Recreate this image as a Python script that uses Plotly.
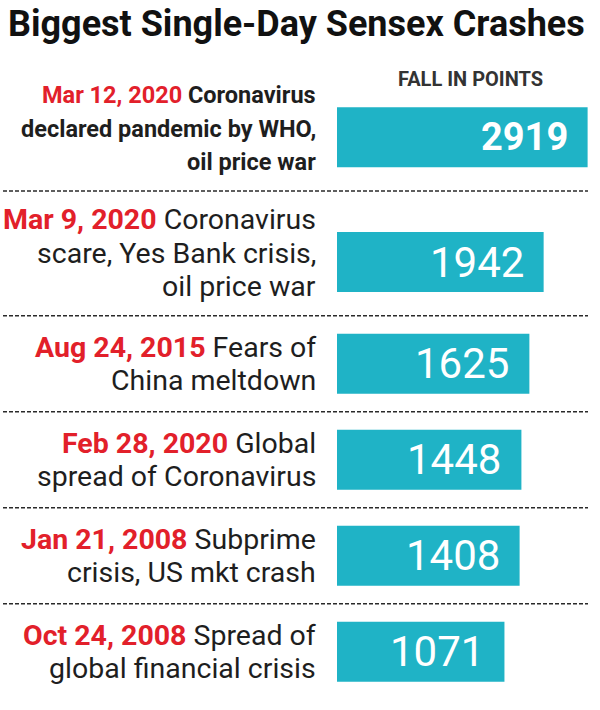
import plotly.graph_objects as go

# ---- data ----
dates = ["Mar 12, 2020", "Mar 9, 2020", "Aug 24, 2015", "Feb 28, 2020", "Jan 21, 2008", "Oct 24, 2008"]
descriptions = [
    ["Coronavirus", "declared pandemic by WHO,", "oil price war"],
    ["Coronavirus", "scare, Yes Bank crisis,", "oil price war"],
    ["Fears of", "China meltdown"],
    ["Global", "spread of Coronavirus"],
    ["Subprime", "crisis, US mkt crash"],
    ["Spread of", "global financial crisis"],
]
fall_points = [2919, 1942, 1625, 1448, 1408, 1071]
title_text = "Biggest Single-Day Sensex Crashes"
column_header = "FALL IN POINTS"

# ---- style ----
FONT = "Roboto, Liberation Sans, sans-serif"
BAR_COLOR = "#1fb3c6"
RED = "#e2202a"
INK = "#1e1e1e"
BAR_BASE = -2650          # the reference's bars are not drawn from zero
PX_PER_UNIT = 96.0
LINE_PX = 33.5
W, H = 600, 710

# row heights grow with the number of label lines
heights = [1.3 if len(d) >= 3 else 1.0 for d in descriptions]
centers, bar_pos, bounds, acc = [], [], [], 0.0
for h in heights:
    centers.append(acc + h / 2)
    bar_pos.append(acc + h / 2 + 0.3 * (h - 1))
    acc += h
    bounds.append(acc)
separators = bounds[:-1]

y_top = -66.2 / PX_PER_UNIT
y_bot = y_top + H / PX_PER_UNIT

fig = go.Figure()
fig.add_trace(go.Bar(
    orientation="h",
    y=bar_pos,
    x=[v - BAR_BASE for v in fall_points],
    base=BAR_BASE,
    width=60 / PX_PER_UNIT,
    marker=dict(color=BAR_COLOR, line=dict(width=0)),
    customdata=fall_points,
    hovertemplate="%{customdata}<extra></extra>",
))

annotations = []
for i, (d, lines, v, c, b) in enumerate(zip(dates, descriptions, fall_points, centers, bar_pos)):
    n = len(lines)
    for k, line in enumerate(lines):
        if k == 0:
            txt = f"<span style='color:{RED}'><b>{d}</b></span> {line}"
        else:
            txt = line
        if i == 0:
            txt = f"<b>{txt}</b>"
        annotations.append(dict(
            xref="paper", yref="y", x=318 / W, y=c, xanchor="right", yanchor="middle",
            yshift=-(k - (n - 1) / 2) * LINE_PX,
            align="right", text=txt, showarrow=False,
            font=dict(family=FONT, size=(23.5 if i == 0 else 28.5), color=INK),
        ))
    annotations.append(dict(
        xref="x", yref="y", x=v, y=b, xanchor="right", yanchor="middle",
        xshift=-18, text=(f"<b>{v}</b>" if i == 0 else str(v)), showarrow=False,
        font=dict(family=FONT, size=(38 if i == 0 else 42), color="white"),
    ))

annotations.append(dict(
    xref="paper", yref="paper", x=6 / W, y=1 - 24 / H, xanchor="left", yanchor="middle",
    text=f"<b>{title_text}</b>", showarrow=False,
    font=dict(family=FONT, size=36, color="#111111"),
))
annotations.append(dict(
    xref="paper", yref="paper", x=470 / W, y=1 - 79 / H, xanchor="center", yanchor="middle",
    text=f"<b>{column_header}</b>", showarrow=False,
    font=dict(family=FONT, size=20, color="#333333"),
))

shapes = [
    dict(type="line", xref="paper", yref="y", x0=3 / W, x1=588 / W, y0=s, y1=s,
         line=dict(color="#2a2a2a", width=1.5, dash="4px,2px"))
    for s in separators
]

fig.update_layout(
    width=W, height=H,
    margin=dict(l=0, r=0, t=0, b=0),
    paper_bgcolor="white", plot_bgcolor="white",
    showlegend=False,
    xaxis=dict(domain=[337 / W, 1], range=[BAR_BASE, BAR_BASE + (W - 337) / 0.045],
               visible=False, fixedrange=True),
    yaxis=dict(domain=[0, 1], range=[y_bot, y_top], visible=False, fixedrange=True),
    annotations=annotations,
    shapes=shapes,
)

fig.write_html("out.html", config={"displayModeBar": False},
               post_script="document.body.style.margin='0';")
